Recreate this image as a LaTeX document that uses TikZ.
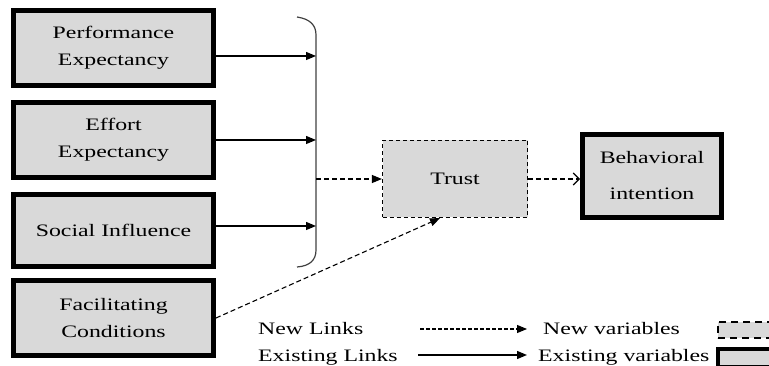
\documentclass[tikz,border=0pt]{standalone}
\usepackage{fontspec}
\newfontfamily\diafont[FakeStretch=1.36]{Liberation Serif}
\usepackage{tikz}
\usetikzlibrary{positioning}
\usetikzlibrary{arrows.meta}
\definecolor{boxgray}{RGB}{217,217,217}

\begin{document}
\begin{tikzpicture}[x=1pt,y=-1pt,
    font=\diafont\fontsize{17.5}{27}\selectfont,
    oldvar/.style={draw,line width=5pt,fill=boxgray,minimum width=200pt,minimum height=75pt,align=center,inner sep=0pt},
    newvar/.style={draw,line width=1.2pt,dash pattern=on 4pt off 3pt,fill=boxgray,minimum width=145pt,minimum height=77pt},
    oldlink/.style={line width=1.2pt,-{Triangle[length=10pt,width=8pt]}},
    newlink/.style={line width=1.1pt,dash pattern=on 5pt off 3pt,-{Triangle[length=10pt,width=8pt]}}]
    \useasboundingbox (0,0) rectangle (769,366);
    \begin{scope}[every node/.style={oldvar}]
        \node (pe) at (113.5,48) {Performance\\Expectancy};
        \node (ee)[below=12pt of pe] {Effort\\Expectancy};
        \node (si)[below=12pt of ee,minimum height=72pt] {Social Influence};
        \node (fc)[below=9pt of si] {Facilitating\\Conditions};
    \end{scope}
    \node[newvar] (trust) at (455,179) {Trust};
    \node[oldvar,minimum width=139pt,minimum height=83pt,
        font=\diafont\fontsize{17.5}{36}\selectfont] (bi) at (652,176) {Behavioral\\intention};
    %Brace
    \coordinate (bar) at (316,0);
    \draw[line width=1.2pt,black!75] (297,17) .. controls (310,19) and (316,25) .. (316,35)
        -- (316,250) .. controls (316,260) and (310,266) .. (297,267);
    %Lines
    \coordinate (pe-out) at ([yshift=-8pt]pe.east);
    \coordinate (si-out) at ([yshift=4.5pt]si.east);
    \draw[oldlink] (pe-out) -- (pe-out -| bar);
    \draw[oldlink] (ee.east) -- (ee.east -| bar);
    \draw[oldlink] (si-out) -- (si-out -| bar);
    \draw[newlink] (trust.west -| bar) -- (trust.west);
    \draw[newlink] (fc.east) -- ([xshift=-15pt]trust.south);
    \draw[line width=1.1pt,dash pattern=on 5pt off 3pt,-{Straight Barb[length=6pt,width=12pt]}]
        (trust.east) -- (trust.east -| bi.west);
    %Legend
    \begin{scope}[every node/.style={anchor=west,inner sep=0pt}]
        \node (newl) at (258,329) {New Links};
        \node (oldl) at (258,357) {Existing Links};
        \node (newv) at (543,329) {New variables};
        \node (oldv) at (538,357) {Existing variables};
    \end{scope}
    \coordinate (nl-a) at (420,329);
    \coordinate (nl-b) at (527,329);
    \coordinate (ol-a) at (418,355);
    \coordinate (ol-b) at (527,355);
    \draw[newlink,dash pattern=on 3.5pt off 2.5pt] (nl-a) -- (nl-b);
    \draw[oldlink] (ol-a) -- (ol-b);
    \node[newvar,line width=2pt,dash pattern=on 7pt off 5pt,minimum width=80pt,minimum height=16pt,
        anchor=north west] (newbox) at (717,321) {};
    \node[oldvar,line width=4pt,minimum width=80pt,minimum height=18pt,
        anchor=north west] (oldbox) at (716,347) {};
\end{tikzpicture}
\end{document}
